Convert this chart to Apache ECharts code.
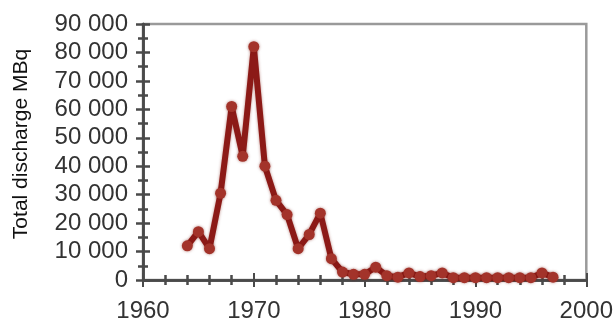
<!DOCTYPE html>
<html>
<head>
<meta charset="utf-8">
<script src="https://cdn.jsdelivr.net/npm/echarts@6/dist/echarts.min.js"></script>
<style>
  html, body { margin: 0; padding: 0; background: #fff; }
  #chart { width: 616px; height: 325px; }
</style>
</head>
<body>
<div id="chart"></div>
<script>
// Annual total discharge (MBq)
const years = [1964, 1965, 1966, 1967, 1968, 1969, 1970, 1971, 1972, 1973,
               1974, 1975, 1976, 1977, 1978, 1979, 1980, 1981, 1982, 1983,
               1984, 1985, 1986, 1987, 1988, 1989, 1990, 1991, 1992, 1993,
               1994, 1995, 1996, 1997];
const discharge = [12000, 17000, 11000, 30500, 61000, 43500, 82000, 40000, 28000, 23000,
                   11000, 16000, 23500, 7500, 2800, 2000, 2000, 4500, 1500, 1000,
                   2500, 1200, 1500, 2500, 800, 800, 800, 800, 800, 800,
                   800, 800, 2500, 1000];
const yTicks = [0, 10000, 20000, 30000, 40000, 50000, 60000, 70000, 80000, 90000];
const xTicks = [1960, 1970, 1980, 1990, 2000];
const yTitle = 'Total discharge MBq';

const fmt = v => String(v).replace(/\B(?=(\d{3})+(?!\d))/g, ' ');
const axisColor = '#4a4a4a';
const font = 'Liberation Sans, Arial, sans-serif';

const chart = echarts.init(document.getElementById('chart'));

// Each axis is drawn twice (outward + inward ticks) so the ticks cross the line.
function xAxisDef(inside, labels) {
  return {
    type: 'value', min: xTicks[0], max: xTicks[xTicks.length - 1], interval: 10,
    position: 'bottom',
    axisLine: { show: true, lineStyle: { color: axisColor, width: 2.5 } },
    axisTick: { show: true, inside: inside, length: 7, lineStyle: { color: axisColor, width: 2 } },
    minorTick: { show: true, splitNumber: 5, length: 5, lineStyle: { color: axisColor, width: 2.5 } },
    axisLabel: { show: labels, color: '#333', fontSize: 24, fontFamily: font, margin: 19,
                 formatter: v => String(v) },
    splitLine: { show: false }
  };
}
function yAxisDef(inside, labels) {
  return {
    type: 'value', min: yTicks[0], max: yTicks[yTicks.length - 1], interval: 10000,
    position: 'left',
    axisLine: { show: true, lineStyle: { color: axisColor, width: 2.5 } },
    axisTick: { show: true, inside: inside, length: 7, lineStyle: { color: axisColor, width: 2.5 } },
    minorTick: { show: true, splitNumber: 2, length: 5, lineStyle: { color: axisColor, width: 2.5 } },
    axisLabel: { show: labels, color: '#333', fontSize: 24, fontFamily: font, margin: 15,
                 formatter: v => fmt(v) },
    splitLine: { show: false }
  };
}

chart.setOption({
  animation: false,
  grid: { left: 143, right: 29, top: 24, bottom: 45, show: true,
          borderColor: '#9a9a9a', borderWidth: 2.5, backgroundColor: 'transparent' },
  xAxis: [xAxisDef(false, true), xAxisDef(true, false)],
  yAxis: [yAxisDef(false, true), yAxisDef(true, false)],
  graphic: [{
    type: 'text', x: 21, y: 144, rotation: Math.PI / 2,
    style: { text: yTitle, fill: '#111', fontSize: 21, fontFamily: font,
             align: 'center', verticalAlign: 'middle' }
  }],
  series: [{
    type: 'line',
    data: years.map((y, i) => [y, discharge[i]]),
    symbol: 'circle', symbolSize: 11,
    lineStyle: { color: '#8c1a17', width: 6, shadowColor: 'rgba(120,20,10,0.5)', shadowBlur: 3 },
    itemStyle: { color: '#a3332a', borderWidth: 0, shadowColor: 'rgba(120,20,10,0.5)', shadowBlur: 3 },
    z: 5
  }]
});
</script>
</body>
</html>
